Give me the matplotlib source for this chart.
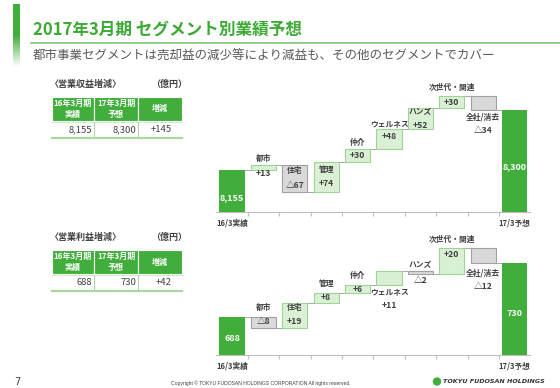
import numpy as np
import matplotlib
matplotlib.use("Agg")
import matplotlib.pyplot as plt
from matplotlib.patches import Rectangle, Ellipse
from matplotlib.colors import LinearSegmentedColormap

plt.rcParams['font.family'] = ['Noto Sans CJK JP', 'DejaVu Sans']

# ---------------- data ----------------
categories = ['16/3実績', '都市', '住宅', '管理', '仲介', 'ウェルネス', 'ハンズ', '次世代・関連', '全社/消去', '17/3予想']
segments = categories[1:-1]

rev_start = 8155
rev_deltas = [13, -67, 74, 30, 48, 52, 30, -34]
rev_end = 8300

op_start = 688
op_deltas = [-8, 19, 8, 6, 11, -2, 20, -12]
op_end = 730

table_headers = ['16年3月期\n実績', '17年3月期\n予想', '増減']
rev_table = ['8,155', '8,300', '+145']
op_table = ['688', '730', '+42']

title = '2017年3月期 セグメント別業績予想'
subtitle = '都市事業セグメントは売却益の減少等により減益も、その他のセグメントでカバー'

# ---------------- style ----------------
GREEN = '#41AE3B'
POS_FILL, POS_EDGE = '#DAF0D5', '#9ED596'
NEG_FILL, NEG_EDGE = '#D9D9D9', '#A0A0A0'
TXT = '#404040'
W, H = 560, 388

fig = plt.figure(figsize=(5.6, 3.88), dpi=100)
bg = fig.add_axes([0, 0, 1, 1])
bg.set_xlim(0, W)
bg.set_ylim(H, 0)
bg.axis('off')

# left gradient bar
grad = LinearSegmentedColormap.from_list('g', [GREEN, GREEN, '#FFFFFF'])
bg.imshow(np.linspace(0, 1, 100).reshape(-1, 1), cmap=grad, extent=[13, 20, 67, 4],
          aspect='auto', zorder=1)
bg.set_xlim(0, W)
bg.set_ylim(H, 0)

bg.text(33, 29.5, title, color='#3DAA35', fontsize=12, fontweight='bold', va='center', ha='left')
bg.plot([31, 560], [43.3, 43.3], color='#7DC576', lw=1.2)
bg.text(33, 56.5, subtitle, color='#595959', fontsize=9, va='center', ha='left')


def draw_table(y0, label, values):
    bg.text(50, y0 - 13, '〈' + label + '〉', fontsize=6.5, fontweight='bold', color=TXT,
            va='center', ha='left')
    bg.text(151, y0 - 13, '（億円）', fontsize=6.5, fontweight='bold', color=TXT,
            va='center', ha='left')
    cols = [(52, 94), (94, 138), (138, 182)]
    for (a, b), h in zip(cols, table_headers):
        bg.add_patch(Rectangle((a, y0), b - a, 24, facecolor=GREEN, edgecolor='white', lw=0.8))
        bg.text((a + b) / 2, y0 + 12, h, color='white', fontsize=5.8, fontweight='bold',
                ha='center', va='center', linespacing=1.35)
    bg.plot([52, 182], [y0 + 25, y0 + 25], color='#C8E6C2', lw=0.6)
    for (a, b), v, pad in zip(cols, values, [2, 2, 10]):
        bg.text(b - pad, y0 + 32.5, v, color=TXT, fontsize=6.8, ha='right', va='center')
    for xb in [94, 138]:
        bg.plot([xb, xb], [y0 + 25, y0 + 40], color='#A8D8A0', lw=0.7)
    bg.plot([52, 182], [y0 + 40.5, y0 + 40.5], color='#A8D8A0', lw=1.6)


draw_table(97, '営業収益増減', rev_table)
draw_table(250, '営業利益増減', op_table)

# footer
bg.text(17, 382, '7', fontsize=7, color=TXT, ha='center', va='center', family='DejaVu Sans')
bg.text(261, 383, 'Copyright © TOKYU FUDOSAN HOLDINGS CORPORATION All rights reserved.',
        fontsize=3.6, color=TXT, ha='center', va='center', family='Liberation Sans')
bg.add_patch(Ellipse((437, 381.5), 7, 7, color=GREEN))
bg.text(443, 381.5, 'TOKYU FUDOSAN HOLDINGS', fontsize=4.6, color='#333333', ha='left', va='center',
        fontweight='heavy', style='italic', family='DejaVu Sans')


def waterfall(rect_px, ylim, start, deltas, end, specs, tot_offsets):
    x0, y_top, x1, y_base = rect_px
    ax = fig.add_axes([x0 / W, 1 - y_base / H, (x1 - x0) / W, (y_base - y_top) / H])
    ax.patch.set_alpha(0)
    ax.set_xlim(-0.5, len(categories) - 0.5)
    ax.set_ylim(*ylim)
    for s in ['top', 'left', 'right']:
        ax.spines[s].set_visible(False)
    ax.spines['bottom'].set_color('#BFBFBF')
    ax.spines['bottom'].set_linewidth(0.8)
    ax.set_yticks([])
    ax.set_xticks([])
    ax.set_xticks(np.arange(len(categories) - 1) + 0.5, minor=True)
    ax.tick_params(axis='x', which='minor', length=3, color='#BFBFBF', width=0.8)
    base = ylim[0]
    wbar = 0.8
    pt = 0.72  # points per pixel

    def lab(x, yv, dpx, s, size, color=TXT, bold=True):
        ax.annotate(s, (x, yv), xytext=(0, -dpx * pt), textcoords='offset points',
                    ha='center', va='center', fontsize=size, color=color,
                    fontweight='bold' if bold else 'normal', annotation_clip=False)

    # start total
    ax.bar(0, start - base, bottom=base, width=wbar, color=GREEN, zorder=3)
    lab(0, start, tot_offsets[0], f'{start:,}', 6.5, 'white')
    level = start
    for i, d in enumerate(deltas):
        xi = i + 1
        lo, hi = min(level, level + d), max(level, level + d)
        fc, ec = (POS_FILL, POS_EDGE) if d >= 0 else (NEG_FILL, NEG_EDGE)
        ax.bar(xi, hi - lo, bottom=lo, width=wbar, facecolor=fc, edgecolor=ec, lw=0.8, zorder=3)
        ax.plot([xi - 1 + wbar / 2, xi - wbar / 2], [level, level], color='#A6A6A6', lw=0.7, zorder=2)
        (na, nd), (va_, vd) = specs[i]
        ny = hi if na == 'top' else lo
        vy = hi if va_ == 'top' else lo
        lab(xi, ny, nd, segments[i], 5.6)
        vs = f'+{d}' if d >= 0 else f'△{-d}'
        lab(xi, vy, vd, vs, 6.2)
        level += d
    n = len(categories) - 1
    ax.plot([n - 1 + wbar / 2, n - wbar / 2], [level, level], color='#A6A6A6', lw=0.7, zorder=2)
    ax.bar(n, end - base, bottom=base, width=wbar, color=GREEN, zorder=3)
    lab(n, end, tot_offsets[1], f'{end:,}', 6.5, 'white')
    lab(0, base, 11, categories[0], 5.5)
    lab(n, base, 11, categories[-1], 5.5)
    return ax


rev_specs = [(('top', -5.7), ('bot', 4)), (('top', 6.3), ('top', 21.3)),
             (('top', 7.3), ('top', 21.3)), (('top', -7), ('top', 6)),
             (('top', -6), ('top', 7)), (('top', 3.7), ('top', 17.7)),
             (('top', -8), ('top', 7)), (('bot', 7), ('bot', 21))]
op_specs = [(('top', -10.3), ('top', 4.4)), (('top', 4.7), ('top', 18.7)),
            (('top', -9.3), ('top', 4.7)), (('top', -9.3), ('top', 4)),
            (('bot', 6.7), ('bot', 20.7)), (('top', -6.4), ('bot', 6.7)),
            (('top', -8.3), ('top', 6.7)), (('bot', 9.4), ('bot', 23.4))]

rev_scale = 0.4138
waterfall((216.3, 80, 530.4, 212), (8053.5, 8053.5 + 132 / rev_scale),
          rev_start, rev_deltas, rev_end, rev_specs, (28, 56.7))
op_scale = 1.2857
waterfall((216.3, 235, 530.4, 355), (658.7, 658.7 + 120 / op_scale),
          op_start, op_deltas, op_end, op_specs, (20.7, 49.7))

fig.savefig('out.png', dpi=100)
